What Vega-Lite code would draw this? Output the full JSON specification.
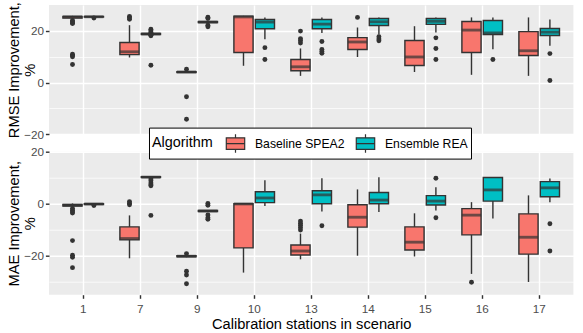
{
  "$schema": "https://vega.github.io/schema/vega-lite/v6.json",
  "padding": {"left": 6, "top": 1, "right": 10, "bottom": 0},
  "bounds": "flush",
  "spacing": 16.7,
  "resolve": {"scale": {"y": "independent", "x": "independent", "xOffset": "independent"}, "axis": {"y": "independent", "x": "independent"}},
  "config": {
    "font": "Liberation Sans",
    "view": {"fill": "#EBEBEB", "stroke": null},
    "axis": {
      "domain": false,
      "gridColor": "#FFFFFF",
      "gridOpacity": 1,
      "gridWidth": 1.42,
      "tickColor": "#333333",
      "tickWidth": 1.42,
      "tickSize": 3.6,
      "labelColor": "#4D4D4D",
      "labelFontSize": 11.7,
      "labelPadding": 1.8,
      "labelOverlap": false,
      "titleFontSize": 14.67,
      "titleFontWeight": "normal",
      "titleColor": "#000000"
    }
  },
  "datasets": {
    "boxes": [
      {"m": "RMSE", "s": "1", "a": "Baseline SPEA2", "lo": 24.6, "q1": 25.0, "med": 25.4, "q3": 25.6, "hi": 25.8},
      {"m": "RMSE", "s": "1", "a": "Ensemble REA", "lo": 25.2, "q1": 25.35, "med": 25.45, "q3": 25.55, "hi": 25.7},
      {"m": "RMSE", "s": "7", "a": "Baseline SPEA2", "lo": 9.7, "q1": 10.8, "med": 11.9, "q3": 15.5, "hi": 22.2},
      {"m": "RMSE", "s": "7", "a": "Ensemble REA", "lo": 18.5, "q1": 18.6, "med": 18.8, "q3": 19.0, "hi": 19.2},
      {"m": "RMSE", "s": "9", "a": "Baseline SPEA2", "lo": 3.8, "q1": 3.9, "med": 4.1, "q3": 4.2, "hi": 4.4},
      {"m": "RMSE", "s": "9", "a": "Ensemble REA", "lo": 23.0, "q1": 23.2, "med": 23.4, "q3": 23.6, "hi": 23.8},
      {"m": "RMSE", "s": "10", "a": "Baseline SPEA2", "lo": 6.5, "q1": 11.6, "med": 25.4, "q3": 25.7, "hi": 25.8},
      {"m": "RMSE", "s": "10", "a": "Ensemble REA", "lo": 16.8, "q1": 20.8, "med": 23.4, "q3": 24.4, "hi": 25.2},
      {"m": "RMSE", "s": "13", "a": "Baseline SPEA2", "lo": 2.6, "q1": 4.6, "med": 6.1, "q3": 8.9, "hi": 13.2},
      {"m": "RMSE", "s": "13", "a": "Ensemble REA", "lo": 19.2, "q1": 20.8, "med": 22.6, "q3": 24.4, "hi": 25.2},
      {"m": "RMSE", "s": "14", "a": "Baseline SPEA2", "lo": 9.9, "q1": 12.8, "med": 15.7, "q3": 17.4, "hi": 21.3},
      {"m": "RMSE", "s": "14", "a": "Ensemble REA", "lo": 18.6, "q1": 22.1, "med": 23.5, "q3": 24.8, "hi": 25.2},
      {"m": "RMSE", "s": "15", "a": "Baseline SPEA2", "lo": 4.1, "q1": 6.6, "med": 9.9, "q3": 16.3, "hi": 21.8},
      {"m": "RMSE", "s": "15", "a": "Ensemble REA", "lo": 19.4, "q1": 22.5, "med": 23.7, "q3": 24.8, "hi": 25.2},
      {"m": "RMSE", "s": "16", "a": "Baseline SPEA2", "lo": 3.0, "q1": 11.6, "med": 20.3, "q3": 23.6, "hi": 25.2},
      {"m": "RMSE", "s": "16", "a": "Ensemble REA", "lo": 12.9, "q1": 18.6, "med": 19.2, "q3": 24.0, "hi": 25.2},
      {"m": "RMSE", "s": "17", "a": "Baseline SPEA2", "lo": 2.6, "q1": 10.5, "med": 12.3, "q3": 19.7, "hi": 25.2},
      {"m": "RMSE", "s": "17", "a": "Ensemble REA", "lo": 14.2, "q1": 18.2, "med": 19.5, "q3": 20.9, "hi": 24.4},
      {"m": "MAE", "s": "1", "a": "Baseline SPEA2", "lo": -1.1, "q1": -0.9, "med": -0.6, "q3": -0.3, "hi": 0.1},
      {"m": "MAE", "s": "1", "a": "Ensemble REA", "lo": -0.4, "q1": -0.3, "med": -0.1, "q3": 0.0, "hi": 0.2},
      {"m": "MAE", "s": "7", "a": "Baseline SPEA2", "lo": -21.0, "q1": -13.9, "med": -13.4, "q3": -8.9, "hi": -4.5},
      {"m": "MAE", "s": "7", "a": "Ensemble REA", "lo": 10.0, "q1": 10.1, "med": 10.2, "q3": 10.4, "hi": 10.6},
      {"m": "MAE", "s": "9", "a": "Baseline SPEA2", "lo": -20.6, "q1": -20.4, "med": -20.2, "q3": -20.0, "hi": -19.8},
      {"m": "MAE", "s": "9", "a": "Ensemble REA", "lo": -3.2, "q1": -3.0, "med": -2.8, "q3": -2.6, "hi": -2.4},
      {"m": "MAE", "s": "10", "a": "Baseline SPEA2", "lo": -26.5, "q1": -17.0, "med": -0.1, "q3": 0.0, "hi": 0.0},
      {"m": "MAE", "s": "10", "a": "Ensemble REA", "lo": -0.9, "q1": 0.4, "med": 2.2, "q3": 4.6, "hi": 9.0},
      {"m": "MAE", "s": "13", "a": "Baseline SPEA2", "lo": -21.4, "q1": -19.7, "med": -18.2, "q3": -15.9, "hi": -11.5},
      {"m": "MAE", "s": "13", "a": "Ensemble REA", "lo": -3.0, "q1": 0.0, "med": 3.4, "q3": 5.0, "hi": 9.8},
      {"m": "MAE", "s": "14", "a": "Baseline SPEA2", "lo": -20.0, "q1": -9.0, "med": -5.2, "q3": -0.4, "hi": 5.5},
      {"m": "MAE", "s": "14", "a": "Ensemble REA", "lo": -3.2, "q1": 0.0, "med": 1.4, "q3": 4.3, "hi": 10.2},
      {"m": "MAE", "s": "15", "a": "Baseline SPEA2", "lo": -20.3, "q1": -17.8, "med": -14.8, "q3": -8.9, "hi": -3.7},
      {"m": "MAE", "s": "15", "a": "Ensemble REA", "lo": -2.6, "q1": -0.5, "med": 1.0, "q3": 3.1, "hi": 6.3},
      {"m": "MAE", "s": "16", "a": "Baseline SPEA2", "lo": -27.0, "q1": -12.0, "med": -4.4, "q3": -1.9, "hi": 0.6},
      {"m": "MAE", "s": "16", "a": "Ensemble REA", "lo": -5.7, "q1": 1.0, "med": 5.3, "q3": 10.1, "hi": 10.1},
      {"m": "MAE", "s": "17", "a": "Baseline SPEA2", "lo": -30.1, "q1": -19.4, "med": -12.9, "q3": -3.9, "hi": 3.2},
      {"m": "MAE", "s": "17", "a": "Ensemble REA", "lo": 0.6, "q1": 2.7, "med": 6.1, "q3": 8.5, "hi": 9.7}
    ],
    "outliers": [
      {"m": "RMSE", "s": "1", "a": "Baseline SPEA2", "v": 24.0},
      {"m": "RMSE", "s": "1", "a": "Baseline SPEA2", "v": 23.5},
      {"m": "RMSE", "s": "1", "a": "Baseline SPEA2", "v": 23.0},
      {"m": "RMSE", "s": "1", "a": "Baseline SPEA2", "v": 22.8},
      {"m": "RMSE", "s": "1", "a": "Baseline SPEA2", "v": 11.0},
      {"m": "RMSE", "s": "1", "a": "Baseline SPEA2", "v": 10.5},
      {"m": "RMSE", "s": "1", "a": "Baseline SPEA2", "v": 10.0},
      {"m": "RMSE", "s": "1", "a": "Baseline SPEA2", "v": 7.0},
      {"m": "RMSE", "s": "1", "a": "Ensemble REA", "v": 25.0},
      {"m": "RMSE", "s": "7", "a": "Baseline SPEA2", "v": 25.6},
      {"m": "RMSE", "s": "7", "a": "Baseline SPEA2", "v": 25.1},
      {"m": "RMSE", "s": "7", "a": "Baseline SPEA2", "v": 24.5},
      {"m": "RMSE", "s": "7", "a": "Ensemble REA", "v": 20.6},
      {"m": "RMSE", "s": "7", "a": "Ensemble REA", "v": 20.0},
      {"m": "RMSE", "s": "7", "a": "Ensemble REA", "v": 19.5},
      {"m": "RMSE", "s": "7", "a": "Ensemble REA", "v": 18.3},
      {"m": "RMSE", "s": "7", "a": "Ensemble REA", "v": 18.1},
      {"m": "RMSE", "s": "7", "a": "Ensemble REA", "v": 6.7},
      {"m": "RMSE", "s": "9", "a": "Baseline SPEA2", "v": 5.2},
      {"m": "RMSE", "s": "9", "a": "Baseline SPEA2", "v": -5.5},
      {"m": "RMSE", "s": "9", "a": "Baseline SPEA2", "v": -14.2},
      {"m": "RMSE", "s": "9", "a": "Ensemble REA", "v": 25.3},
      {"m": "RMSE", "s": "9", "a": "Ensemble REA", "v": 24.8},
      {"m": "RMSE", "s": "9", "a": "Ensemble REA", "v": 22.2},
      {"m": "RMSE", "s": "9", "a": "Ensemble REA", "v": 21.6},
      {"m": "RMSE", "s": "10", "a": "Ensemble REA", "v": 13.5},
      {"m": "RMSE", "s": "10", "a": "Ensemble REA", "v": 8.9},
      {"m": "RMSE", "s": "13", "a": "Baseline SPEA2", "v": 19.9},
      {"m": "RMSE", "s": "13", "a": "Baseline SPEA2", "v": 17.0},
      {"m": "RMSE", "s": "13", "a": "Baseline SPEA2", "v": 16.3},
      {"m": "RMSE", "s": "13", "a": "Baseline SPEA2", "v": 15.3},
      {"m": "RMSE", "s": "13", "a": "Ensemble REA", "v": 15.9},
      {"m": "RMSE", "s": "13", "a": "Ensemble REA", "v": 12.8},
      {"m": "RMSE", "s": "13", "a": "Ensemble REA", "v": 12.0},
      {"m": "RMSE", "s": "13", "a": "Ensemble REA", "v": 11.3},
      {"m": "RMSE", "s": "14", "a": "Baseline SPEA2", "v": 25.2},
      {"m": "RMSE", "s": "14", "a": "Ensemble REA", "v": 17.7},
      {"m": "RMSE", "s": "14", "a": "Ensemble REA", "v": 16.9},
      {"m": "RMSE", "s": "14", "a": "Ensemble REA", "v": 16.2},
      {"m": "RMSE", "s": "15", "a": "Ensemble REA", "v": 17.3},
      {"m": "RMSE", "s": "15", "a": "Ensemble REA", "v": 13.2},
      {"m": "RMSE", "s": "15", "a": "Ensemble REA", "v": 8.9},
      {"m": "RMSE", "s": "16", "a": "Ensemble REA", "v": 8.9},
      {"m": "RMSE", "s": "17", "a": "Ensemble REA", "v": 11.2},
      {"m": "RMSE", "s": "17", "a": "Ensemble REA", "v": 0.8},
      {"m": "MAE", "s": "1", "a": "Baseline SPEA2", "v": -1.8},
      {"m": "MAE", "s": "1", "a": "Baseline SPEA2", "v": -2.5},
      {"m": "MAE", "s": "1", "a": "Baseline SPEA2", "v": -3.2},
      {"m": "MAE", "s": "1", "a": "Baseline SPEA2", "v": -3.6},
      {"m": "MAE", "s": "1", "a": "Baseline SPEA2", "v": -14.2},
      {"m": "MAE", "s": "1", "a": "Baseline SPEA2", "v": -19.8},
      {"m": "MAE", "s": "1", "a": "Baseline SPEA2", "v": -20.6},
      {"m": "MAE", "s": "1", "a": "Baseline SPEA2", "v": -24.6},
      {"m": "MAE", "s": "1", "a": "Ensemble REA", "v": -0.7},
      {"m": "MAE", "s": "7", "a": "Baseline SPEA2", "v": 0.8},
      {"m": "MAE", "s": "7", "a": "Baseline SPEA2", "v": 0.2},
      {"m": "MAE", "s": "7", "a": "Baseline SPEA2", "v": -0.4},
      {"m": "MAE", "s": "7", "a": "Ensemble REA", "v": 9.5},
      {"m": "MAE", "s": "7", "a": "Ensemble REA", "v": 8.8},
      {"m": "MAE", "s": "7", "a": "Ensemble REA", "v": 8.0},
      {"m": "MAE", "s": "7", "a": "Ensemble REA", "v": 7.3},
      {"m": "MAE", "s": "7", "a": "Ensemble REA", "v": 6.9},
      {"m": "MAE", "s": "7", "a": "Ensemble REA", "v": -4.5},
      {"m": "MAE", "s": "9", "a": "Baseline SPEA2", "v": -19.2},
      {"m": "MAE", "s": "9", "a": "Baseline SPEA2", "v": -26.0},
      {"m": "MAE", "s": "9", "a": "Baseline SPEA2", "v": -27.4},
      {"m": "MAE", "s": "9", "a": "Baseline SPEA2", "v": -30.8},
      {"m": "MAE", "s": "9", "a": "Ensemble REA", "v": 0.1},
      {"m": "MAE", "s": "9", "a": "Ensemble REA", "v": -0.6},
      {"m": "MAE", "s": "9", "a": "Ensemble REA", "v": -4.3},
      {"m": "MAE", "s": "9", "a": "Ensemble REA", "v": -5.4},
      {"m": "MAE", "s": "9", "a": "Ensemble REA", "v": -6.0},
      {"m": "MAE", "s": "13", "a": "Baseline SPEA2", "v": -6.7},
      {"m": "MAE", "s": "13", "a": "Baseline SPEA2", "v": -7.5},
      {"m": "MAE", "s": "13", "a": "Baseline SPEA2", "v": -8.3},
      {"m": "MAE", "s": "13", "a": "Baseline SPEA2", "v": -9.2},
      {"m": "MAE", "s": "13", "a": "Baseline SPEA2", "v": -10.1},
      {"m": "MAE", "s": "13", "a": "Ensemble REA", "v": -8.5},
      {"m": "MAE", "s": "15", "a": "Ensemble REA", "v": 9.8},
      {"m": "MAE", "s": "15", "a": "Ensemble REA", "v": -5.4},
      {"m": "MAE", "s": "16", "a": "Baseline SPEA2", "v": -30.2},
      {"m": "MAE", "s": "17", "a": "Ensemble REA", "v": -7.7},
      {"m": "MAE", "s": "17", "a": "Ensemble REA", "v": -18.2}
    ]
  },
  "vconcat": [
    {
      "width": 524.4,
      "height": 129.3,
      "encoding": {
        "x": {"field": "s", "type": "nominal", "sort": ["1","7","9","10","13","14","15","16","17"], "scale": {"paddingInner": 0, "paddingOuter": 0.1}, "axis": {"title": null, "labels": false, "ticks": false, "domain": false, "grid": true, "bandPosition": 0.5}},
        "xOffset": {"field": "a", "type": "nominal", "scale": {"paddingInner": 0.103, "paddingOuter": 0.383}}
      },
      "layer": [
        {
          "data": {"name": "boxes"},
          "transform": [{"filter": "datum.m === 'RMSE'"}],
          "mark": {"type": "rule", "color": "#333333", "strokeWidth": 1.42},
          "encoding": {
            "y": {"field": "lo", "type": "quantitative", "scale": {"domain": [-20, 30], "nice": false, "zero": false}, "axis": {"values": [-20, -10, 0, 10, 20], "labelExpr": "datum.value % 20 === 0 ? datum.label : ''", "tickOpacity": {"condition": {"test": "datum.value % 20 === 0", "value": 1}, "value": 0}, "gridWidth": {"condition": {"test": "datum.value % 20 === 0", "value": 1.42}, "value": 0.71}, "grid": true, "title": ["RMSE Improvement,", "%"], "titleX": -30.6, "titleBaseline": "alphabetic", "titleLineHeight": 16.5}},
            "y2": {"field": "hi"}
          }
        },
        {
          "data": {"name": "boxes"},
          "transform": [{"filter": "datum.m === 'RMSE'"}],
          "mark": {"type": "bar", "stroke": "#333333", "strokeWidth": 1.42},
          "encoding": {
            "y": {"field": "q1", "type": "quantitative", "axis": {"values": [-20, -10, 0, 10, 20], "labelExpr": "datum.value % 20 === 0 ? datum.label : ''", "tickOpacity": {"condition": {"test": "datum.value % 20 === 0", "value": 1}, "value": 0}, "gridWidth": {"condition": {"test": "datum.value % 20 === 0", "value": 1.42}, "value": 0.71}, "grid": true, "title": ["RMSE Improvement,", "%"], "titleX": -30.6, "titleBaseline": "alphabetic", "titleLineHeight": 16.5}},
            "y2": {"field": "q3"},
            "fill": {"field": "a", "type": "nominal", "title": "Algorithm", "scale": {"domain": ["Baseline SPEA2", "Ensemble REA"], "range": ["#F8766D", "#00BFC4"]},
              "legend": {"orient": "none", "legendX": 100, "legendY": 122.6, "direction": "horizontal", "titleOrient": "left", "titleAnchor": "middle", "titleBaseline": "middle", "titleFontSize": 14.4, "titleFontWeight": "normal", "titleColor": "#000000", "titlePadding": 10, "labelFontSize": 12.2, "labelColor": "#000000", "labelOffset": 7, "columnPadding": 8, "padding": 3, "strokeColor": "#000000", "fillColor": "#FFFFFF", "symbolType": "M-0.8,-0.5H0.8V0.5H-0.8Z M-0.8,0H0.8 M0,-0.5V-0.8 M0,0.5V0.8", "symbolSize": 529, "symbolStrokeColor": "#333333", "symbolStrokeWidth": 1.2, "symbolOpacity": 1}}
          }
        },
        {
          "data": {"name": "boxes"},
          "transform": [{"filter": "datum.m === 'RMSE'"}],
          "mark": {"type": "tick", "color": "#333333", "thickness": 2.84, "size": 19.2, "orient": "horizontal"},
          "encoding": {
            "y": {"field": "med", "type": "quantitative", "axis": {"values": [-20, -10, 0, 10, 20], "labelExpr": "datum.value % 20 === 0 ? datum.label : ''", "tickOpacity": {"condition": {"test": "datum.value % 20 === 0", "value": 1}, "value": 0}, "gridWidth": {"condition": {"test": "datum.value % 20 === 0", "value": 1.42}, "value": 0.71}, "grid": true, "title": ["RMSE Improvement,", "%"], "titleX": -30.6, "titleBaseline": "alphabetic", "titleLineHeight": 16.5}}
          }
        },
        {
          "data": {"name": "outliers"},
          "transform": [{"filter": "datum.m === 'RMSE'"}],
          "mark": {"type": "circle", "color": "#333333", "opacity": 1, "size": 24},
          "encoding": {
            "y": {"field": "v", "type": "quantitative", "axis": {"values": [-20, -10, 0, 10, 20], "labelExpr": "datum.value % 20 === 0 ? datum.label : ''", "tickOpacity": {"condition": {"test": "datum.value % 20 === 0", "value": 1}, "value": 0}, "gridWidth": {"condition": {"test": "datum.value % 20 === 0", "value": 1.42}, "value": 0.71}, "grid": true, "title": ["RMSE Improvement,", "%"], "titleX": -30.6, "titleBaseline": "alphabetic", "titleLineHeight": 16.5}}
          }
        }
      ]
    },
    {
      "width": 524.4,
      "height": 143,
      "encoding": {
        "x": {"field": "s", "type": "nominal", "sort": ["1","7","9","10","13","14","15","16","17"], "scale": {"paddingInner": 0, "paddingOuter": 0.1}, "axis": {"title": "Calibration stations in scenario", "labelAngle": 0, "bandPosition": 0.5, "labelPadding": 5, "titlePadding": 2, "grid": true}},
        "xOffset": {"field": "a", "type": "nominal", "scale": {"paddingInner": 0.103, "paddingOuter": 0.383}}
      },
      "layer": [
        {
          "data": {"name": "boxes"},
          "transform": [{"filter": "datum.m === 'MAE'"}],
          "mark": {"type": "rule", "color": "#333333", "strokeWidth": 1.42},
          "encoding": {
            "y": {"field": "lo", "type": "quantitative", "scale": {"domain": [-35, 20], "nice": false, "zero": false}, "axis": {"values": [-30, -20, -10, 0, 10, 20], "labelExpr": "datum.value % 20 === 0 ? datum.label : ''", "tickOpacity": {"condition": {"test": "datum.value % 20 === 0", "value": 1}, "value": 0}, "gridWidth": {"condition": {"test": "datum.value % 20 === 0", "value": 1.42}, "value": 0.71}, "grid": true, "title": ["MAE Improvement,", "%"], "titleX": -30.6, "titleBaseline": "alphabetic", "titleLineHeight": 16.5}},
            "y2": {"field": "hi"}
          }
        },
        {
          "data": {"name": "boxes"},
          "transform": [{"filter": "datum.m === 'MAE'"}],
          "mark": {"type": "bar", "stroke": "#333333", "strokeWidth": 1.42},
          "encoding": {
            "y": {"field": "q1", "type": "quantitative", "axis": {"values": [-30, -20, -10, 0, 10, 20], "labelExpr": "datum.value % 20 === 0 ? datum.label : ''", "tickOpacity": {"condition": {"test": "datum.value % 20 === 0", "value": 1}, "value": 0}, "gridWidth": {"condition": {"test": "datum.value % 20 === 0", "value": 1.42}, "value": 0.71}, "grid": true, "title": ["MAE Improvement,", "%"], "titleX": -30.6, "titleBaseline": "alphabetic", "titleLineHeight": 16.5}},
            "y2": {"field": "q3"},
            "fill": {"field": "a", "type": "nominal", "title": "Algorithm",
              "legend": {"orient": "none", "legendX": 100, "legendY": 122.6, "direction": "horizontal", "titleOrient": "left", "titleAnchor": "middle", "titleBaseline": "middle", "titleFontSize": 14.4, "titleFontWeight": "normal", "titleColor": "#000000", "titlePadding": 10, "labelFontSize": 12.2, "labelColor": "#000000", "labelOffset": 7, "columnPadding": 8, "padding": 3, "strokeColor": "#000000", "fillColor": "#FFFFFF", "symbolType": "M-0.8,-0.5H0.8V0.5H-0.8Z M-0.8,0H0.8 M0,-0.5V-0.8 M0,0.5V0.8", "symbolSize": 529, "symbolStrokeColor": "#333333", "symbolStrokeWidth": 1.2, "symbolOpacity": 1}}
          }
        },
        {
          "data": {"name": "boxes"},
          "transform": [{"filter": "datum.m === 'MAE'"}],
          "mark": {"type": "tick", "color": "#333333", "thickness": 2.84, "size": 19.2, "orient": "horizontal"},
          "encoding": {
            "y": {"field": "med", "type": "quantitative", "axis": {"values": [-30, -20, -10, 0, 10, 20], "labelExpr": "datum.value % 20 === 0 ? datum.label : ''", "tickOpacity": {"condition": {"test": "datum.value % 20 === 0", "value": 1}, "value": 0}, "gridWidth": {"condition": {"test": "datum.value % 20 === 0", "value": 1.42}, "value": 0.71}, "grid": true, "title": ["MAE Improvement,", "%"], "titleX": -30.6, "titleBaseline": "alphabetic", "titleLineHeight": 16.5}}
          }
        },
        {
          "data": {"name": "outliers"},
          "transform": [{"filter": "datum.m === 'MAE'"}],
          "mark": {"type": "circle", "color": "#333333", "opacity": 1, "size": 24},
          "encoding": {
            "y": {"field": "v", "type": "quantitative", "axis": {"values": [-30, -20, -10, 0, 10, 20], "labelExpr": "datum.value % 20 === 0 ? datum.label : ''", "tickOpacity": {"condition": {"test": "datum.value % 20 === 0", "value": 1}, "value": 0}, "gridWidth": {"condition": {"test": "datum.value % 20 === 0", "value": 1.42}, "value": 0.71}, "grid": true, "title": ["MAE Improvement,", "%"], "titleX": -30.6, "titleBaseline": "alphabetic", "titleLineHeight": 16.5}}
          }
        }
      ]
    }
  ]
}
